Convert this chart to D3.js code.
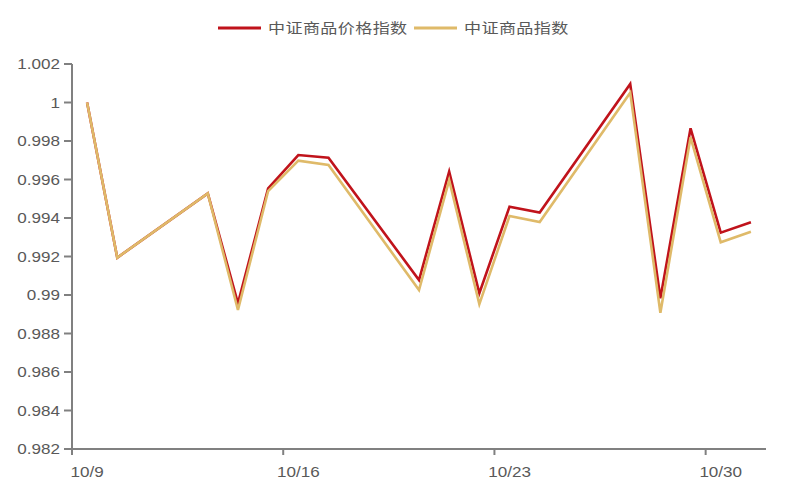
<!DOCTYPE html>
<html>
<head>
<meta charset="utf-8">
<script src="https://cdn.jsdelivr.net/npm/d3@7"></script>
<style>
  body { margin: 0; background: #fff; }
  svg { display: block; }
</style>
</head>
<body>
<svg id="chart" width="790" height="498"></svg>
<script>
// calendar days on the category axis (weekends carry no data)
var days = ['10/9', '10/10', '10/11', '10/12', '10/13', '10/14', '10/15', '10/16', '10/17',
  '10/18', '10/19', '10/20', '10/21', '10/22', '10/23', '10/24', '10/25', '10/26', '10/27',
  '10/28', '10/29', '10/30', '10/31'];
var tradeDays = ['10/9', '10/10', '10/13', '10/14', '10/15', '10/16', '10/17', '10/20', '10/21',
  '10/22', '10/23', '10/24', '10/27', '10/28', '10/29', '10/30', '10/31'];
var priceIndex = [1.0000, 0.99194, 0.99528, 0.98957, 0.99554, 0.99727, 0.99713, 0.99078, 0.99641,
  0.99009, 0.99459, 0.99428, 1.00096, 0.98983, 0.99866, 0.99324, 0.99378];
var commodityIndex = [1.0000, 0.99194, 0.99528, 0.98922, 0.99540, 0.99698, 0.99675, 0.99026, 0.99597,
  0.98953, 0.99410, 0.99379, 1.00051, 0.98908, 0.99819, 0.99274, 0.99329];
var yTicks = [0.982, 0.984, 0.986, 0.988, 0.99, 0.992, 0.994, 0.996, 0.998, 1, 1.002];
var xTickLabels = ['10/9', '10/16', '10/23', '10/30'];
var seriesNames = ['中证商品价格指数', '中证商品指数'];
var colors = ['#c0131b', '#dfba69'];

var svg = d3.select('#chart');
var stretch = 1.22; // the picture's text is a bit wide
var axisColor = '#808080';

var x = d3.scaleBand().domain(days).range([72, 766]);
var y = d3.scaleLinear().domain([0.982, 1.002]).range([449, 64]);
var cx = d => x(d) + x.bandwidth() / 2;

function label(g, px, py, txt, anchor, size) {
    return g.append('text')
        .attr('transform', 'translate(' + px + ',' + py + ') scale(' + stretch + ',1)')
        .attr('text-anchor', anchor)
        .attr('font-family', 'Liberation Sans, Arial, sans-serif')
        .attr('font-size', size)
        .attr('fill', '#595959')
        .text(txt);
}

// y axis
var gy = svg.append('g');
gy.append('line').attr('x1', 72).attr('x2', 72).attr('y1', y(1.002)).attr('y2', y(0.982) + 1)
    .attr('stroke', axisColor).attr('stroke-width', 2);
yTicks.forEach(function (t) {
    gy.append('line').attr('x1', 64).attr('x2', 72).attr('y1', y(t)).attr('y2', y(t))
        .attr('stroke', axisColor).attr('stroke-width', 2);
    label(gy, 60, y(t) + 5, d3.format('')(+t.toFixed(3)), 'end', '14px');
});

// x axis
var gx = svg.append('g');
gx.append('line').attr('x1', 71).attr('x2', 766).attr('y1', y(0.982)).attr('y2', y(0.982))
    .attr('stroke', axisColor).attr('stroke-width', 2);
xTickLabels.forEach(function (d) {
    gx.append('line').attr('x1', x(d)).attr('x2', x(d)).attr('y1', y(0.982)).attr('y2', y(0.982) + 6)
        .attr('stroke', axisColor).attr('stroke-width', 2);
    label(gx, cx(d), 477, d, 'middle', '14px');
});

// lines
var line = d3.line().x(d => cx(d[0])).y(d => y(d[1]));
[priceIndex, commodityIndex].forEach(function (vals, i) {
    svg.append('path')
        .datum(tradeDays.map((d, j) => [d, vals[j]]))
        .attr('d', line)
        .attr('fill', 'none')
        .attr('stroke', colors[i])
        .attr('stroke-width', 2.6)
        .attr('stroke-linejoin', 'miter');
});

// legend
var legend = svg.append('g');
var legendX = [218, 414];
seriesNames.forEach(function (name, i) {
    legend.append('line').attr('x1', legendX[i]).attr('x2', legendX[i] + 43)
        .attr('y1', 28).attr('y2', 28)
        .attr('stroke', colors[i]).attr('stroke-width', 3);
    legend.append('text')
        .attr('transform', 'translate(' + (legendX[i] + 50) + ',33) scale(' + stretch + ',1)')
        .attr('font-family', 'Noto Sans CJK SC, sans-serif')
        .attr('font-size', '14px')
        .attr('letter-spacing', '0.3px')
        .attr('fill', '#595959')
        .text(name);
});
</script>
</body>
</html>
